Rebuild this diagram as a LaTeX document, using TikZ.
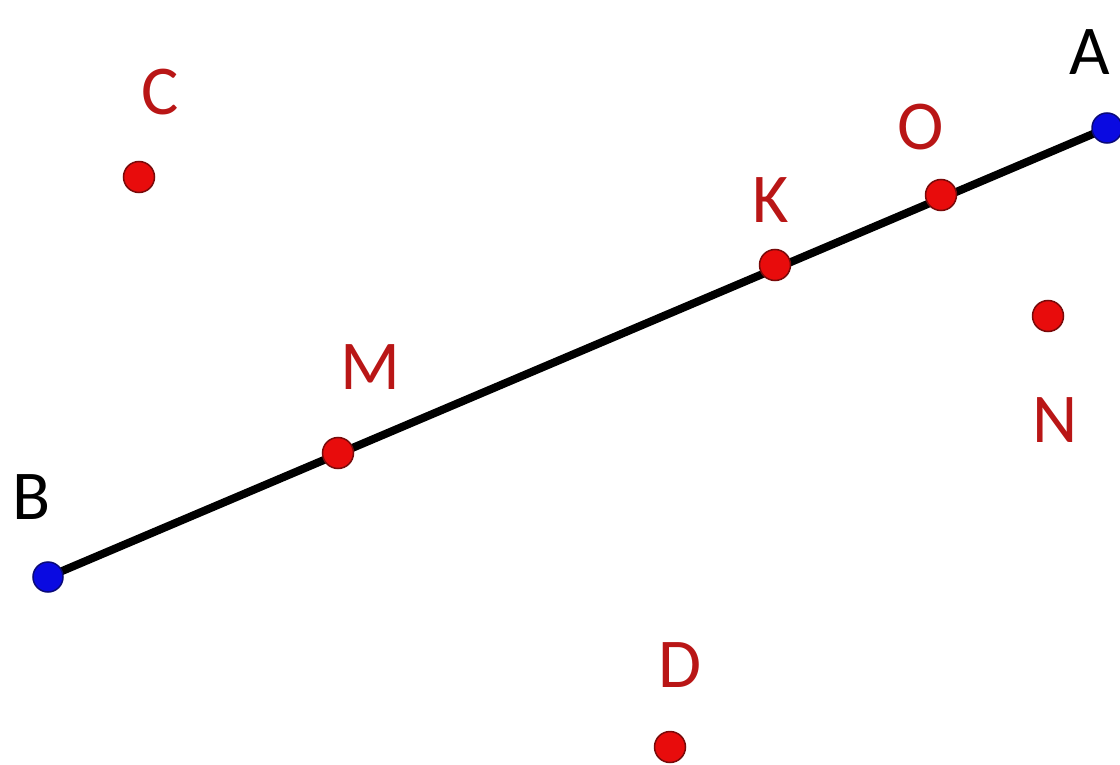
\documentclass[tikz,border=0pt]{standalone}
\usepackage{fontspec}
\setmainfont{Carlito}
\definecolor{ptred}{RGB}{232,12,12}
\definecolor{ptredb}{RGB}{120,10,10}
\definecolor{ptblue}{RGB}{10,10,225}
\definecolor{ptblueb}{RGB}{10,10,120}
\definecolor{lblred}{RGB}{185,22,22}
\begin{document}
\begin{tikzpicture}[x=1pt,y=-1pt,
  redpt/.style={circle,fill=ptred,draw=ptredb,line width=1.5pt,minimum size=31pt,inner sep=0pt},
  bluept/.style={circle,fill=ptblue,draw=ptblueb,line width=1.5pt,minimum size=30pt,inner sep=0pt},
  redlbl/.style={text=lblred,font=\fontsize{70}{80}\selectfont,inner sep=0pt},
  blklbl/.style={text=black,font=\fontsize{70}{80}\selectfont,inner sep=0pt}]
\useasboundingbox (0,0) rectangle (1120,765);
\coordinate (Bc) at (48,577);
\coordinate (Ac) at (1107,128);
\draw[line width=8pt] (Bc) -- (Ac);
\node[bluept] (B) at (Bc) {};
\node[bluept] (A) at (Ac) {};
\node[redpt] (M) at (338,453) {};
\node[redpt] (K) at (775,265) {};
\node[redpt] (O) at (941,195) {};
\node[redpt] (C) at (139,177) {};
\node[redpt] (N) at (1048,316) {};
\node[redpt] (D) at (670,747) {};
\node[redlbl] (lC) at (160,92) {C};
\node[redlbl] (lO) at (921,127) {O};
\node[redlbl] (lK) at (771,200) {K};
\node[redlbl] (lM) at (370,367) {M};
\node[redlbl] (lN) at (1055,420) {N};
\node[redlbl] (lD) at (680,665) {D};
\node[blklbl] (lA) at (1090,52) {A};
\node[blklbl] (lB) at (32,497) {B};
\end{tikzpicture}
\end{document}
